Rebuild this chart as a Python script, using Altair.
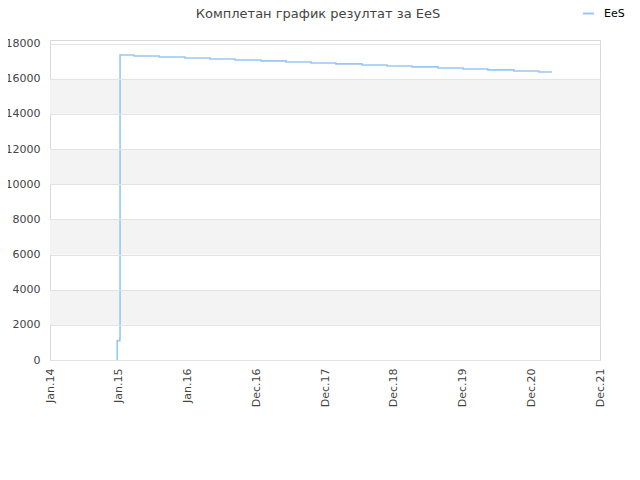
import altair as alt
import pandas as pd

dates = ["2014-12-24", "2014-12-24", "2015-01-07", "2015-01-08", "2015-03-23",
         "2015-08-03", "2015-12-19", "2016-04-29", "2016-09-09", "2017-01-25",
         "2017-06-07", "2017-10-18", "2018-02-27", "2018-07-15", "2018-11-25",
         "2019-04-07", "2019-08-23", "2020-01-03", "2020-05-14", "2020-09-29",
         "2021-02-09", "2021-04-19"]
values = [0, 1100, 1270, 17350, 17290, 17230, 17180, 17120, 17060, 17010,
          16950, 16890, 16840, 16780, 16720, 16670, 16610, 16550, 16500, 16440,
          16380, 16380]
series_name = "EeS"

y_ticks = [0, 2000, 4000, 6000, 8000, 10000, 12000, 14000, 16000, 18000]
band_lo = [2000, 6000, 10000, 14000]
band_hi = [4000, 8000, 12000, 16000]
x_ticks = [(2014, 1, 1), (2015, 1, 1), (2016, 1, 1), (2016, 12, 31), (2017, 12, 31),
           (2018, 12, 31), (2019, 12, 31), (2020, 12, 30), (2021, 12, 30)]

df = pd.DataFrame({"date": [d + "T00:00:00" for d in dates], "value": values,
                   "series": series_name})
bands = pd.DataFrame({"lo": band_lo, "hi": band_hi})

FONT = "DejaVu Sans"

x_scale = alt.Scale(domain=[alt.DateTime(year=2014, month=1, date=1),
                            alt.DateTime(year=2021, month=12, date=30)], nice=False)
y_scale = alt.Scale(domain=[0, 18200], nice=False)

y_axis = alt.Axis(values=y_ticks, format="d", labelPadding=10, grid=True,
                  zindex=1, labelOverlap=False, labelBound=False, labelFlush=False)

band_layer = alt.Chart(bands).mark_rect(color="#f3f3f3").encode(
    y=alt.Y("lo:Q", scale=y_scale, title=None, axis=y_axis),
    y2="hi:Q",
)

line_layer = alt.Chart(df).mark_line(interpolate="step-after", strokeWidth=1.6).encode(
    x=alt.X("date:T", scale=x_scale, title=None,
            axis=alt.Axis(values=[alt.DateTime(year=a, month=b, date=c) for a, b, c in x_ticks],
                          labelExpr="timeFormat(datum.value, '%b.%y')",
                          labelAngle=270, labelPadding=8, grid=False,
                          labelOverlap=False)),
    y=alt.Y("value:Q", scale=y_scale, title=None, axis=y_axis),
    color=alt.Color("series:N", scale=alt.Scale(range=["#99c7f5"]),
                    legend=alt.Legend(title=None, orient="none", legendX=532, legendY=-33,
                                      symbolType="stroke", symbolSize=121,
                                      symbolStrokeWidth=2, labelFontSize=11,
                                      labelColor="#000", labelFont=FONT, labelOffset=9)),
)

chart = alt.layer(band_layer, line_layer).properties(
    width=550, height=320,
    title=alt.TitleParams("Комплетан график резултат за EeS", fontSize=13, font=FONT,
                          fontWeight="normal", color="#444", anchor="middle", dx=-7,
                          offset=-14),
    autosize=alt.AutoSizeParams(type="none"),
    padding={"left": 42, "top": 32, "right": 30, "bottom": 100},
).configure_view(stroke="#d9d9d9").configure_axis(
    domain=False, ticks=False, labelFont=FONT, labelFontSize=11, labelColor="#444",
    gridColor="#e3e3e3"
).configure_axisY(labelOverlap=False)

chart.save("out.html", embed_options={"renderer": "svg", "actions": False})
